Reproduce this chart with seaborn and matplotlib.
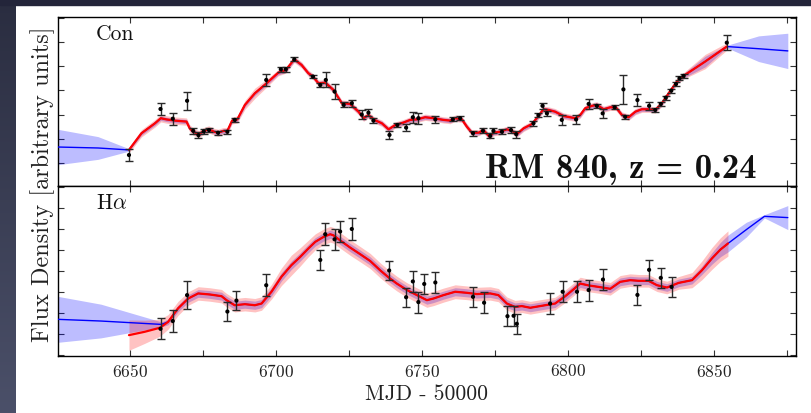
import numpy as np
import matplotlib
matplotlib.use("Agg")
import matplotlib.pyplot as plt
import seaborn as sns
from matplotlib.ticker import MultipleLocator
from matplotlib.patches import Rectangle

# ---------------- data ----------------
# Continuum light curve: observed points
con_mjd = [6649.6, 6660.4, 6664.6, 6669.5, 6671.6, 6673.4, 6675.2, 6677.0, 6680.1, 6683.3,
           6685.8, 6696.6, 6701.6, 6703.3, 6706.2, 6712.6, 6715.1, 6717.0, 6720.0, 6723.1,
           6725.9, 6729.3, 6731.6, 6733.3, 6738.8, 6741.5, 6744.5, 6746.8, 6748.7, 6754.5,
           6760.5, 6763.0, 6767.4, 6770.8, 6773.3, 6774.4, 6777.3, 6780.4, 6782.2, 6788.1,
           6789.8, 6791.2, 6792.7, 6797.8, 6802.7, 6807.0, 6809.8, 6811.8, 6815.9, 6818.9,
           6819.5, 6823.7, 6827.7, 6829.8, 6831.7, 6833.4, 6835.3, 6836.9, 6838.1, 6839.5,
           6854.3]
con_flux = [0.33, 2.23, 1.83, 2.57, 1.33, 1.15, 1.30, 1.36, 1.25, 1.29,
            1.78, 3.43, 3.87, 3.87, 4.28, 3.57, 3.22, 3.43, 2.95, 2.40,
            2.47, 2.00, 2.08, 1.75, 1.16, 1.57, 1.46, 1.89, 1.85, 1.80,
            1.80, 1.85, 1.23, 1.33, 1.12, 1.33, 1.29, 1.36, 1.19, 1.64,
            1.98, 2.36, 2.05, 1.78, 1.80, 2.44, 2.36, 2.05, 2.30, 3.04,
            1.91, 2.60, 2.36, 2.19, 2.44, 2.70, 2.99, 3.26, 3.50, 3.60,
            4.97]
con_err = [0.26, 0.24, 0.25, 0.38, 0.12, 0.12, 0.10, 0.08, 0.08, 0.08,
           0.08, 0.25, 0.10, 0.10, 0.08, 0.08, 0.08, 0.31, 0.30, 0.10,
           0.15, 0.20, 0.15, 0.10, 0.15, 0.08, 0.15, 0.22, 0.22, 0.15,
           0.08, 0.08, 0.10, 0.10, 0.10, 0.10, 0.10, 0.12, 0.15, 0.10,
           0.10, 0.12, 0.10, 0.20, 0.20, 0.22, 0.08, 0.20, 0.08, 0.61,
           0.08, 0.25, 0.18, 0.08, 0.08, 0.08, 0.08, 0.08, 0.08, 0.08,
           0.30]

# Continuum model (red curve)
con_red_t = [6649.6, 6653.9, 6658.5, 6660.5, 6662.4, 6665.3, 6669.3, 6670.4, 6671.6, 6673.5,
             6675.2, 6676.9, 6678.8, 6680.1, 6681.8, 6683.3, 6684.9, 6686.7, 6689.3, 6692.7,
             6696.7, 6700.7, 6703.3, 6706.2, 6708.7, 6711.0, 6712.6, 6714.5, 6716.8, 6719.6,
             6722.5, 6725.3, 6728.2, 6729.9, 6731.6, 6733.6, 6736.2, 6738.5, 6740.8, 6743.6,
             6745.9, 6748.2, 6751.0, 6753.9, 6757.3, 6759.6, 6761.3, 6763.6, 6765.3, 6767.0,
             6769.3, 6771.0, 6773.0, 6774.4, 6776.7, 6779.0, 6780.7, 6782.4, 6784.7, 6787.6,
             6789.8, 6791.5, 6793.3, 6795.5, 6798.4, 6802.4, 6804.1, 6805.8, 6808.1, 6809.8,
             6812.1, 6814.4, 6816.3, 6818.4, 6820.7, 6823.0, 6825.2, 6827.5, 6829.8, 6832.1,
             6834.4, 6837.2, 6839.5, 6846.9, 6854.3]
con_red_y = [0.54, 1.23, 1.64, 1.85, 1.80, 1.75, 1.71, 1.43, 1.29, 1.19,
             1.32, 1.39, 1.29, 1.25, 1.32, 1.33, 1.75, 1.80, 2.40, 2.88,
             3.29, 3.73, 3.84, 4.28, 4.05, 3.71, 3.57, 3.29, 3.32, 3.02,
             2.47, 2.44, 2.12, 1.85, 1.98, 1.78, 1.64, 1.39, 1.57, 1.67,
             1.78, 1.80, 1.89, 1.85, 1.78, 1.75, 1.85, 1.80, 1.50, 1.25,
             1.25, 1.36, 1.09, 1.25, 1.29, 1.39, 1.33, 1.19, 1.43, 1.61,
             1.94, 2.22, 2.19, 2.12, 1.94, 1.85, 1.98, 2.26, 2.36, 2.40,
             2.22, 2.30, 2.30, 1.98, 1.89, 2.12, 2.22, 2.22, 2.19, 2.47,
             2.88, 3.36, 3.60, 4.19, 4.81]
con_red_wt = [6649.6, 6655.0, 6686.0, 6692.0, 6697.0, 6700.0, 6840.0, 6847.0, 6854.3]
con_red_w = [0.12, 0.16, 0.14, 0.22, 0.16, 0.13, 0.13, 0.30, 0.15]

# Continuum model (blue curve): extrapolations outside the red model
con_blue_left_t = [6625.3, 6639.0]
con_blue_left_y = [0.66, 0.62]
con_blue_right_t = [6865.2, 6875.2]
con_blue_right_y = [4.72, 4.63]
con_blue_wt = [6625.3, 6639.0, 6649.6, 6655.0, 6840.0, 6847.0, 6854.3, 6865.2, 6875.2]
con_blue_w = [0.73, 0.47, 0.05, 0.09, 0.09, 0.22, 0.05, 0.53, 0.73]

# H-alpha light curve: observed points
ha_mjd = [6660.4, 6664.6, 6669.5, 6683.3, 6686.4, 6696.6, 6715.1, 6716.8, 6720.0, 6721.9,
          6725.9, 6738.7, 6744.5, 6746.8, 6748.7, 6750.7, 6754.5, 6767.4, 6771.2, 6779.2,
          6781.3, 6782.4, 6793.8, 6798.1, 6803.0, 6807.0, 6811.9, 6823.7, 6827.7, 6831.7,
          6835.4]
ha_flux = [0.25, 0.62, 1.85, 1.07, 1.59, 2.32, 3.52, 4.74, 4.50, 4.87,
           4.99, 3.02, 1.75, 2.50, 1.52, 2.38, 2.45, 1.77, 1.49, 0.85,
           0.87, 0.49, 1.45, 2.01, 2.01, 2.09, 2.59, 1.86, 3.05, 2.67,
           2.24]
ha_err = [0.50, 0.53, 0.65, 0.47, 0.45, 0.51, 0.49, 0.51, 0.51, 0.50,
          0.50, 0.47, 0.46, 0.50, 0.50, 0.48, 0.49, 0.47, 0.49, 0.48,
          0.48, 0.48, 0.50, 0.49, 0.49, 0.50, 0.50, 0.49, 0.49, 0.48,
          0.46]

# H-alpha model (red curve)
ha_red_t = [6649.6, 6655.0, 6660.2, 6663.0, 6666.4, 6669.9, 6673.3, 6677.3, 6681.3, 6683.0,
            6685.8, 6689.3, 6692.7, 6695.0, 6698.4, 6701.8, 6705.2, 6708.2, 6711.0, 6713.4,
            6716.2, 6718.5, 6719.6, 6721.9, 6725.3, 6728.8, 6732.2, 6735.6, 6738.5, 6741.3,
            6744.8, 6748.2, 6751.6, 6753.9, 6757.3, 6761.3, 6765.3, 6768.7, 6773.3, 6776.1,
            6779.0, 6781.8, 6784.1, 6787.0, 6790.4, 6793.8, 6795.5, 6799.0, 6801.8, 6804.1,
            6807.0, 6810.4, 6814.4, 6817.8, 6821.2, 6824.1, 6827.5, 6830.4, 6833.8, 6837.8,
            6842.4, 6845.8, 6849.2, 6852.1, 6854.7]
ha_red_y = [-0.05, 0.11, 0.30, 0.58, 1.22, 1.69, 1.93, 1.88, 1.80, 1.61,
            1.37, 1.42, 1.37, 1.45, 2.01, 2.72, 3.27, 3.66, 4.06, 4.38,
            4.61, 4.74, 4.69, 4.45, 4.11, 3.79, 3.47, 3.03, 2.69, 2.40,
            2.09, 1.85, 1.61, 1.69, 1.85, 2.01, 1.96, 1.90, 1.93, 1.85,
            1.45, 1.29, 1.33, 1.25, 1.33, 1.41, 1.45, 1.80, 2.12, 2.40,
            2.31, 2.24, 2.15, 2.48, 2.56, 2.53, 2.53, 2.32, 2.21, 2.43,
            2.56, 3.03, 3.59, 4.01, 4.30]
ha_red_wt = [6649.6, 6655.0, 6662.0, 6670.0, 6697.0, 6705.0, 6712.0, 6790.0, 6840.0, 6848.0, 6854.7]
ha_red_w = [0.72, 0.55, 0.35, 0.32, 0.32, 0.48, 0.38, 0.30, 0.30, 0.50, 0.60]

# H-alpha model (blue curve): extrapolations
ha_blue_left_t = [6625.3, 6640.0, 6660.7]
ha_blue_left_y = [0.70, 0.62, 0.46]
ha_blue_right_t = [6861.0, 6867.2, 6875.2]
ha_blue_right_y = [4.96, 5.59, 5.53]
ha_blue_wt = [6625.3, 6640.0, 6660.7, 6670.0, 6700.0, 6845.0, 6854.7, 6861.0, 6867.2, 6875.2]
ha_blue_w = [1.09, 0.80, 0.12, 0.18, 0.20, 0.18, 0.40, 0.35, 0.08, 0.57]

x_ticks_major = 50
x_ticks_minor = 25
panel_labels = ["Con", r"H$\alpha$"]
title_text = "RM 840, z = 0.24"
x_label = "MJD - 50000"
y_label = "Flux Density [arbitrary units]"

# ---------------- style ----------------
sns.set_theme(style="ticks")
plt.rcParams["font.family"] = ["cmr10", "DejaVu Serif"]
plt.rcParams["mathtext.fontset"] = "cm"
plt.rcParams["axes.formatter.use_mathtext"] = True
plt.rcParams["axes.unicode_minus"] = False

fig = plt.figure(figsize=(8.11, 4.13), dpi=100, facecolor="white")

# dark frame of the slide (left strip gradient + top strip)
bg = fig.add_axes([0, 0, 15 / 811, 1])
grad = np.linspace(0, 1, 256).reshape(-1, 1)
bg.imshow(grad, aspect="auto", cmap=matplotlib.colors.LinearSegmentedColormap.from_list(
    "frame", ["#2a2d40", "#4b5069"]), origin="upper")
bg.set_axis_off()
fig.patches.append(Rectangle((0, 1 - 5 / 413), 1, 5 / 413, transform=fig.transFigure,
                             color="#23253a", zorder=0))

ax1 = fig.add_axes([58 / 811, 1 - 186 / 413, 738 / 811, 169 / 413])
ax2 = fig.add_axes([58 / 811, 1 - 356 / 413, 738 / 811, 170 / 413])


def draw_panel(ax, mjd, flux, err, rt, ry, rwt, rw, blt, bly, brt, bry, bwt, bw, cut):
    rt = np.asarray(rt)
    ry = np.asarray(ry)
    mid = rt >= cut
    bt = np.concatenate([blt, rt[mid], brt])
    by = np.concatenate([bly, ry[mid], bry])
    bwid = np.interp(bt, bwt, bw)
    rwid = np.interp(rt, rwt, rw)
    ax.fill_between(bt, by - bwid, by + bwid, color="blue", alpha=0.26, lw=0, zorder=1)
    ax.fill_between(rt, ry - rwid, ry + rwid, color="red", alpha=0.24, lw=0, zorder=2)
    sns.lineplot(x=bt, y=by, ax=ax, color="blue", lw=1.0, sort=False, estimator=None,
                 legend=False, zorder=3)
    sns.lineplot(x=rt, y=ry, ax=ax, color="red", lw=1.6, sort=False, estimator=None,
                 legend=False, zorder=4)
    ax.errorbar(mjd, flux, yerr=err, fmt="none", ecolor="#2a2a2a", elinewidth=1.0,
                capsize=2.8, capthick=1.0, zorder=5)
    sns.scatterplot(x=mjd, y=flux, ax=ax, color="black", s=9, edgecolor="none",
                    legend=False, zorder=6)


draw_panel(ax1, con_mjd, con_flux, con_err, con_red_t, con_red_y, con_red_wt, con_red_w,
           con_blue_left_t, con_blue_left_y, con_blue_right_t, con_blue_right_y,
           con_blue_wt, con_blue_w, 6649.0)
draw_panel(ax2, ha_mjd, ha_flux, ha_err, ha_red_t, ha_red_y, ha_red_wt, ha_red_w,
           ha_blue_left_t, ha_blue_left_y, ha_blue_right_t, ha_blue_right_y,
           ha_blue_wt, ha_blue_w, 6661.0)

ax1.set_ylim(-0.95, 6.03)
ax2.set_ylim(-1.04, 7.03)
for ax in (ax1, ax2):
    ax.set_xlim(6625.3, 6878.0)
    ax.xaxis.set_major_locator(MultipleLocator(x_ticks_major))
    ax.xaxis.set_minor_locator(MultipleLocator(x_ticks_minor))
    ax.yaxis.set_major_locator(MultipleLocator(1))
    ax.tick_params(which="both", direction="in", top=True, right=True, length=4,
                   width=0.8, color="#333333", labelleft=False)
    for s in ax.spines.values():
        s.set_color("black")
        s.set_linewidth(1.0)
    ax.set_xlabel("")
    ax.set_ylabel("")
ax1.tick_params(labelbottom=False)
ax2.tick_params(axis="x", labelsize=12.5, pad=5, labelcolor="#222222")
ax2.set_xlabel(x_label, fontsize=15.5, labelpad=3, color="#222222")

ax1.text(0.051, 0.955, panel_labels[0], transform=ax1.transAxes, fontsize=15.5,
         ha="left", va="top", color="#111111")
ax2.text(0.051, 0.955, panel_labels[1], transform=ax2.transAxes, fontsize=15.5,
         ha="left", va="top", color="#111111")
ax1.text(0.947, 0.05, title_text, transform=ax1.transAxes, fontsize=25,
         family=["cmb10", "DejaVu Serif"], weight="bold",
         ha="right", va="baseline", color="#111111")

fig.text(43 / 811, 1 - 184 / 413, y_label, rotation=90, fontsize=17.5, ha="center",
         va="center", color="#222222")

fig.savefig("out.png", dpi=100, facecolor="white")
